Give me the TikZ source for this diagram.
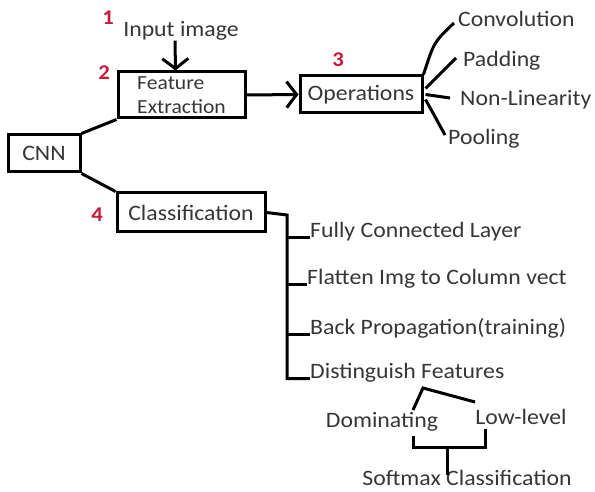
\documentclass[tikz,border=0pt]{standalone}
\usepackage{fontspec}
\setmainfont{Carlito}[FakeStretch=1.08]
\usetikzlibrary{arrows.meta}
\definecolor{txt}{HTML}{363636}
\definecolor{num}{HTML}{C8193C}
\tikzset{
  lbl/.style={text=txt,font=\fontsize{22}{24}\selectfont,inner sep=0pt},
  boxn/.style={draw=black,line width=3pt,text=txt,font=\fontsize{22}{24}\selectfont,inner sep=0pt},
  numl/.style={text=num,font=\fontsize{21}{24}\selectfont\bfseries,inner sep=0pt},
  conn/.style={line width=3pt,draw=black},
  arr/.style={line width=3pt,draw=black,-{Straight Barb[length=10pt,width=26pt,line width=3pt]}}
}
\begin{document}
\begin{tikzpicture}[x=1pt,y=-1pt]
\useasboundingbox (0,0) rectangle (595,492);
% numbers
\node[numl] (n1) at (108,18) {1};
\node[numl] (n2) at (104,73) {2};
\node[numl] (n3) at (338,60) {3};
\node[numl] (n4) at (97,215) {4};
% boxes
\node[boxn,minimum width=72pt,minimum height=37pt] (cnn) at (44,153.5) {CNN};
\node[boxn,minimum width=127pt,minimum height=46pt,align=left,font=\fontsize{20}{24}\selectfont] (feat) at (181.5,95) {Feature\\Extraction};
\node[boxn,minimum width=122pt,minimum height=37pt] (ops) at (361,94.5) {Operations};
\node[boxn,minimum width=148pt,minimum height=39pt] (cls) at (191,212.5) {Classification};
% input
\node[lbl] (inp) at (181,31) {Input image};
\draw[arr] ([xshift=-6pt]inp.south) -- ([xshift=-6pt]feat.north);
% main connectors
\draw[conn] (cnn.north east) -- (feat.south west);
\draw[conn] (cnn.south east) -- (cls.north west);
\draw[arr] (feat.east) -- (ops.west);
% operations children
\node[lbl,anchor=west] (conv) at (458,19) {Convolution};
\node[lbl,anchor=west] (pad) at (463,61) {Padding};
\node[lbl,anchor=west] (nonlin) at (460,100) {Non-Linearity};
\node[lbl,anchor=west] (pool) at (448,139) {Pooling};
\draw[conn] (ops.north east) .. controls (434,42) .. ([shift={(-4,4)}]conv.west);
\draw[conn] ([shift={(2,-6)}]ops.east) -- ([shift={(-7,-3)}]pad.west);
\draw[conn] ([shift={(2,0)}]ops.east) -- ([shift={(-10,-2)}]nonlin.west);
\draw[conn] ([shift={(2,5)}]ops.east) .. controls (433,113) .. ([shift={(-3,-4)}]pool.west);
% classification children
\coordinate (sp) at (287,215);
\node[lbl,anchor=west] (fc) at (310,232) {Fully Connected Layer};
\node[lbl,anchor=west] (fl) at (307,279) {Flatten Img to Column vect};
\node[lbl,anchor=west] (bp) at (310,328) {Back Propagation(training)};
\node[lbl,anchor=west] (df) at (310,373) {Distinguish Features};
\draw[conn] (cls.east) -- (sp) |- (df.base west);
\draw[conn] (fc.base west -| sp) -- (fc.base west);
\draw[conn] (fl.base west -| sp) -- (fl.base west);
\draw[conn] (bp.base west -| sp) -- (bp.base west);
% distinguish features subtree
\node[lbl] (dom) at (382,422) {Dominating};
\node[lbl] (low) at (521,417) {Low-level};
\node[lbl] (soft) at (467,478) {Softmax Classification};
\coordinate (peak) at (423,388);
\coordinate (pl) at (413,410);
\coordinate (pr) at (475,402);
\draw[conn] (pl) -- (peak) -- (pr);
\coordinate (bl) at (413,436);
\coordinate (br) at (485,429);
\coordinate (bm) at (447,447);
\draw[conn] (bl) |- (bm) -| (br);
\draw[conn] (bm) -- ([yshift=-5pt]soft.north -| bm);
\end{tikzpicture}
\end{document}
